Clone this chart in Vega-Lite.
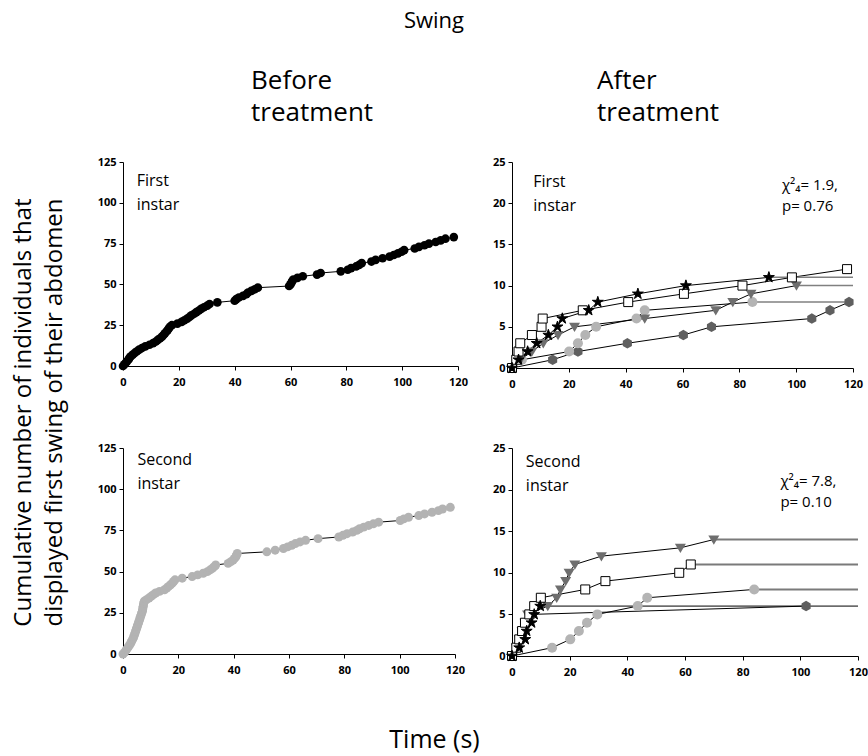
{
  "$schema": "https://vega.github.io/schema/vega-lite/v6.json",
  "autosize": {"type": "none"},
  "padding": {"left": 123, "top": 162, "right": 745, "bottom": 594},
  "background": "white",
  "title": {"text": "Swing", "fontSize": 22, "anchor": "middle", "frame": "group", "dx": 311, "offset": 35},
  "config": {
    "font": "Open Sans",
    "view": {"stroke": null},
    "title": {"font": "Open Sans", "fontWeight": "normal", "color": "black"},
    "axis": {"grid": false, "domainColor": "black", "tickColor": "black", "labelFont": "Open Sans", "labelFontWeight": "bold", "labelFontSize": 11, "labelColor": "black", "tickSize": 4, "domainWidth": 1, "tickWidth": 1, "labelFlush": false, "labelOverlap": false, "title": null},
    "axisY": {"labelPadding": 3},
    "axisX": {"labelPadding": 6}
  },
  "datasets": {
    "TL": [
      {"t":0,"n":0},{"t":0.5,"n":1},{"t":1,"n":2},{"t":1.5,"n":3},{"t":2,"n":4},{"t":2.3,"n":5},{"t":2.8,"n":6},{"t":3.5,"n":7},{"t":4.2,"n":8},{"t":5,"n":9},
      {"t":5.8,"n":10},{"t":6.8,"n":11},{"t":8,"n":12},{"t":9.5,"n":13},{"t":10.8,"n":14},{"t":11.8,"n":15},{"t":12.5,"n":16},{"t":13.3,"n":17},{"t":14,"n":18},{"t":14.5,"n":19},
      {"t":15,"n":20},{"t":15.5,"n":21},{"t":16,"n":22},{"t":16.4,"n":23},{"t":16.8,"n":24},{"t":17.5,"n":25},{"t":19.5,"n":26},{"t":21,"n":27},{"t":22,"n":28},{"t":23,"n":29},
      {"t":23.8,"n":30},{"t":24.5,"n":31},{"t":25.5,"n":32},{"t":26.3,"n":33},{"t":27.2,"n":34},{"t":28,"n":35},{"t":29,"n":36},{"t":30.2,"n":37},{"t":31,"n":38},{"t":33.8,"n":39},
      {"t":40,"n":40},{"t":40.6,"n":41},{"t":41.5,"n":42},{"t":43,"n":43},{"t":44.2,"n":44},{"t":44.8,"n":45},{"t":46,"n":46},{"t":47.2,"n":47},{"t":48.3,"n":48},{"t":59.5,"n":49},
      {"t":60,"n":50},{"t":60.3,"n":51},{"t":60.6,"n":52},{"t":61,"n":53},{"t":62.5,"n":54},{"t":64.4,"n":55},{"t":69.5,"n":56},{"t":70.8,"n":57},{"t":78,"n":58},{"t":80.5,"n":59},
      {"t":81.7,"n":60},{"t":83.5,"n":61},{"t":84.6,"n":62},{"t":85.5,"n":63},{"t":89,"n":64},{"t":90.5,"n":65},{"t":93,"n":66},{"t":95.5,"n":67},{"t":97,"n":68},{"t":98.5,"n":69},
      {"t":99.8,"n":70},{"t":100.7,"n":71},{"t":104.5,"n":72},{"t":106,"n":73},{"t":108,"n":74},{"t":109.6,"n":75},{"t":112,"n":76},{"t":113.8,"n":77},{"t":115.5,"n":78},{"t":118.5,"n":79}
    ],
    "BL": [
      {"t":0,"n":0},{"t":0.6,"n":1},{"t":1,"n":2},{"t":1.4,"n":3},{"t":1.8,"n":4},{"t":2.2,"n":5},{"t":2.6,"n":6},{"t":2.9,"n":7},{"t":3.2,"n":8},{"t":3.5,"n":9},
      {"t":3.8,"n":10},{"t":4,"n":11},{"t":4.2,"n":12},{"t":4.4,"n":13},{"t":4.6,"n":14},{"t":4.8,"n":15},{"t":5,"n":16},{"t":5.2,"n":17},{"t":5.4,"n":18},{"t":5.6,"n":19},
      {"t":5.8,"n":20},{"t":6,"n":21},{"t":6.2,"n":22},{"t":6.4,"n":23},{"t":6.6,"n":24},{"t":6.8,"n":25},{"t":7,"n":26},{"t":7.1,"n":27},{"t":7.2,"n":28},{"t":7.3,"n":29},
      {"t":7.4,"n":30},{"t":7.5,"n":31},{"t":7.7,"n":32},{"t":8.5,"n":33},{"t":9.4,"n":34},{"t":10.2,"n":35},{"t":11,"n":36},{"t":11.8,"n":37},{"t":13.2,"n":38},{"t":15,"n":39},
      {"t":15.8,"n":40},{"t":16.5,"n":41},{"t":17.2,"n":42},{"t":17.8,"n":43},{"t":18.3,"n":44},{"t":18.8,"n":45},{"t":21.4,"n":46},{"t":25,"n":47},{"t":27,"n":48},{"t":29,"n":49},
      {"t":30.5,"n":50},{"t":31.5,"n":51},{"t":32.3,"n":52},{"t":33,"n":53},{"t":33.5,"n":54},{"t":38,"n":55},{"t":39,"n":56},{"t":39.8,"n":57},{"t":40.3,"n":58},{"t":40.8,"n":59},
      {"t":41,"n":60},{"t":41.3,"n":61},{"t":52,"n":62},{"t":55,"n":63},{"t":58,"n":64},{"t":59.5,"n":65},{"t":61,"n":66},{"t":62.3,"n":67},{"t":64,"n":68},{"t":66,"n":69},
      {"t":70.5,"n":70},{"t":78,"n":71},{"t":79.5,"n":72},{"t":81,"n":73},{"t":83,"n":74},{"t":84.5,"n":75},{"t":85.5,"n":76},{"t":87,"n":77},{"t":88.8,"n":78},{"t":90.5,"n":79},
      {"t":92.4,"n":80},{"t":100.2,"n":81},{"t":101.5,"n":82},{"t":103.2,"n":83},{"t":106.9,"n":84},{"t":109,"n":85},{"t":111.7,"n":86},{"t":114,"n":87},{"t":115.5,"n":88},{"t":118.3,"n":89}
    ],
    "right": [
      {"panel":"TR","series":"hex","t":0,"n":0},{"panel":"TR","series":"hex","t":14.3,"n":1},{"panel":"TR","series":"hex","t":23.2,"n":2},{"panel":"TR","series":"hex","t":40.6,"n":3},{"panel":"TR","series":"hex","t":60.3,"n":4},{"panel":"TR","series":"hex","t":70.2,"n":5},{"panel":"TR","series":"hex","t":105.5,"n":6},{"panel":"TR","series":"hex","t":111.9,"n":7},{"panel":"TR","series":"hex","t":118.6,"n":8},
      {"panel":"TR","series":"circle","t":0,"n":0},{"panel":"TR","series":"circle","t":3.5,"n":1},{"panel":"TR","series":"circle","t":20.1,"n":2},{"panel":"TR","series":"circle","t":23.2,"n":3},{"panel":"TR","series":"circle","t":25.8,"n":4},{"panel":"TR","series":"circle","t":29.6,"n":5},{"panel":"TR","series":"circle","t":43.8,"n":6},{"panel":"TR","series":"circle","t":46.7,"n":7},{"panel":"TR","series":"circle","t":84.6,"n":8},
      {"panel":"TR","series":"tri","t":0,"n":0},{"panel":"TR","series":"tri","t":3,"n":1},{"panel":"TR","series":"tri","t":7,"n":2},{"panel":"TR","series":"tri","t":11,"n":3},{"panel":"TR","series":"tri","t":16.2,"n":4},{"panel":"TR","series":"tri","t":22,"n":5},{"panel":"TR","series":"tri","t":46.7,"n":6},{"panel":"TR","series":"tri","t":71.7,"n":7},{"panel":"TR","series":"tri","t":77.7,"n":8},{"panel":"TR","series":"tri","t":84.1,"n":9},{"panel":"TR","series":"tri","t":100.1,"n":10},
      {"panel":"TR","series":"square","t":0,"n":0},{"panel":"TR","series":"square","t":1.5,"n":1},{"panel":"TR","series":"square","t":2.3,"n":2},{"panel":"TR","series":"square","t":2.9,"n":3},{"panel":"TR","series":"square","t":7,"n":4},{"panel":"TR","series":"square","t":10.4,"n":5},{"panel":"TR","series":"square","t":10.8,"n":6},{"panel":"TR","series":"square","t":24.9,"n":7},{"panel":"TR","series":"square","t":40.9,"n":8},{"panel":"TR","series":"square","t":60.5,"n":9},{"panel":"TR","series":"square","t":81.1,"n":10},{"panel":"TR","series":"square","t":98.5,"n":11},{"panel":"TR","series":"square","t":117.9,"n":12},
      {"panel":"TR","series":"star","t":0,"n":0},{"panel":"TR","series":"star","t":2.3,"n":1},{"panel":"TR","series":"star","t":5.5,"n":2},{"panel":"TR","series":"star","t":8.7,"n":3},{"panel":"TR","series":"star","t":12.8,"n":4},{"panel":"TR","series":"star","t":16,"n":5},{"panel":"TR","series":"star","t":17.7,"n":6},{"panel":"TR","series":"star","t":27,"n":7},{"panel":"TR","series":"star","t":30.2,"n":8},{"panel":"TR","series":"star","t":44.3,"n":9},{"panel":"TR","series":"star","t":61.2,"n":10},{"panel":"TR","series":"star","t":90.4,"n":11},
      {"panel":"BR","series":"hex","t":0,"n":0},{"panel":"BR","series":"hex","t":2,"n":1},{"panel":"BR","series":"hex","t":3,"n":2},{"panel":"BR","series":"hex","t":3.5,"n":3},{"panel":"BR","series":"hex","t":5,"n":4},{"panel":"BR","series":"hex","t":7,"n":5},{"panel":"BR","series":"hex","t":102,"n":6},
      {"panel":"BR","series":"circle","t":0,"n":0},{"panel":"BR","series":"circle","t":13.9,"n":1},{"panel":"BR","series":"circle","t":20.2,"n":2},{"panel":"BR","series":"circle","t":23.2,"n":3},{"panel":"BR","series":"circle","t":26,"n":4},{"panel":"BR","series":"circle","t":29.6,"n":5},{"panel":"BR","series":"circle","t":43.6,"n":6},{"panel":"BR","series":"circle","t":46.9,"n":7},{"panel":"BR","series":"circle","t":84,"n":8},
      {"panel":"BR","series":"tri","t":0,"n":0},{"panel":"BR","series":"tri","t":1.5,"n":1},{"panel":"BR","series":"tri","t":2.5,"n":2},{"panel":"BR","series":"tri","t":3.5,"n":3},{"panel":"BR","series":"tri","t":4.5,"n":4},{"panel":"BR","series":"tri","t":5.4,"n":5},{"panel":"BR","series":"tri","t":12.4,"n":6},{"panel":"BR","series":"tri","t":15.5,"n":7},{"panel":"BR","series":"tri","t":16.8,"n":8},{"panel":"BR","series":"tri","t":18.6,"n":9},{"panel":"BR","series":"tri","t":19.8,"n":10},{"panel":"BR","series":"tri","t":21.8,"n":11},{"panel":"BR","series":"tri","t":31,"n":12},{"panel":"BR","series":"tri","t":58.4,"n":13},{"panel":"BR","series":"tri","t":70,"n":14},
      {"panel":"BR","series":"square","t":0,"n":0},{"panel":"BR","series":"square","t":1.5,"n":1},{"panel":"BR","series":"square","t":2.5,"n":2},{"panel":"BR","series":"square","t":3.5,"n":3},{"panel":"BR","series":"square","t":4.5,"n":4},{"panel":"BR","series":"square","t":6,"n":5},{"panel":"BR","series":"square","t":7.7,"n":6},{"panel":"BR","series":"square","t":10,"n":7},{"panel":"BR","series":"square","t":25.4,"n":8},{"panel":"BR","series":"square","t":32.4,"n":9},{"panel":"BR","series":"square","t":58,"n":10},{"panel":"BR","series":"square","t":62,"n":11},
      {"panel":"BR","series":"star","t":0,"n":0},{"panel":"BR","series":"star","t":2.5,"n":1},{"panel":"BR","series":"star","t":4.6,"n":2},{"panel":"BR","series":"star","t":5.1,"n":3},{"panel":"BR","series":"star","t":6.8,"n":4},{"panel":"BR","series":"star","t":7.7,"n":5},{"panel":"BR","series":"star","t":9.8,"n":6}
    ],
    "ext": [
      {"panel":"TR","series":"star","n":11,"t0":90.4,"t1":120},
      {"panel":"TR","series":"tri","n":10,"t0":100.1,"t1":120},
      {"panel":"TR","series":"circle","n":8,"t0":84.6,"t1":120},
      {"panel":"BR","series":"star","n":6,"t0":9.8,"t1":120},
      {"panel":"BR","series":"tri","n":14,"t0":70,"t1":120},
      {"panel":"BR","series":"square","n":11,"t0":62,"t1":120},
      {"panel":"BR","series":"circle","n":8,"t0":84,"t1":120}
    ]
  },
  "bounds": "flush",
  "align": "all",
  "spacing": {"row": 78, "column": 43},
  "columns": 2,
  "concat": [
    {
      "width": 335, "height": 204,
      "title": {"text": ["Before", "treatment"], "anchor": "start", "frame": "group", "dx": 128, "offset": 30, "fontSize": 26, "lineHeight": 32},
      "layer": [
        {"data": {"name": "TL"}, "mark": {"type": "line", "color": "black", "strokeWidth": 1},
         "encoding": {"x": {"field": "t", "type": "quantitative", "scale": {"domain": [0, 120], "nice": false}, "axis": {"values": [0, 20, 40, 60, 80, 100, 120]}},
                      "y": {"field": "n", "type": "quantitative", "scale": {"domain": [0, 125], "nice": false}, "axis": {"values": [0, 25, 50, 75, 100, 125]}}}},
        {"data": {"name": "TL"}, "mark": {"type": "circle", "color": "black", "size": 75, "opacity": 1},
         "encoding": {"x": {"field": "t", "type": "quantitative"}, "y": {"field": "n", "type": "quantitative"}}},
        {"data": {"values": [{}]}, "mark": {"type": "text", "text": ["First", "instar"], "align": "left", "baseline": "alphabetic", "fontSize": 16, "lineHeight": 24, "color": "black"},
         "encoding": {"x": {"datum": 4.9, "type": "quantitative"}, "y": {"datum": 110, "type": "quantitative"}}}
      ]
    },
    {
      "width": 341, "height": 206,
      "title": {"text": ["After", "treatment"], "anchor": "start", "frame": "group", "dx": 85, "offset": 30, "fontSize": 26, "lineHeight": 32},
      "layer": [
        {"data": {"name": "right"}, "transform": [{"filter": "datum.panel === 'TR'"}], "mark": {"type": "line", "color": "black", "strokeWidth": 1},
         "encoding": {"x": {"field": "t", "type": "quantitative", "scale": {"domain": [0, 120], "nice": false}, "axis": {"values": [0, 20, 40, 60, 80, 100, 120]}},
                      "y": {"field": "n", "type": "quantitative", "scale": {"domain": [0, 25], "nice": false}, "axis": {"values": [0, 5, 10, 15, 20, 25]}},
                      "detail": {"field": "series", "type": "nominal"}}},
        {"data": {"name": "ext"}, "transform": [{"filter": "datum.panel === 'TR'"}], "mark": {"type": "rule", "strokeWidth": 1.5},
         "encoding": {"x": {"field": "t0", "type": "quantitative"}, "x2": {"field": "t1"}, "y": {"field": "n", "type": "quantitative"},
                      "color": {"value": "#808080"}}},
        {"data": {"name": "right"}, "transform": [{"filter": "datum.panel === 'TR'"}], "mark": {"type": "point", "filled": true, "opacity": 1, "strokeWidth": 1, "size": 100},
         "encoding": {"x": {"field": "t", "type": "quantitative"}, "y": {"field": "n", "type": "quantitative"},
                      "shape": {"field": "series", "type": "nominal", "legend": null, "scale": {"domain": ["star", "square", "tri", "circle", "hex"], "range": ["M0,-1.15L0.258,-0.355L1.094,-0.355L0.418,0.136L0.676,0.93L0,0.439L-0.676,0.93L-0.418,0.136L-1.094,-0.355L-0.258,-0.355Z", "M-0.9,-0.9L0.9,-0.9L0.9,0.9L-0.9,0.9Z", "M-1.1,-0.8L1.1,-0.8L0,1.05Z", "circle", "M0,-1.05L0.91,-0.525L0.91,0.525L0,1.05L-0.91,0.525L-0.91,-0.525Z"]}},
                      "fill": {"field": "series", "type": "nominal", "legend": null, "scale": {"domain": ["star", "square", "tri", "circle", "hex"], "range": ["#000000", "#ffffff", "#6e6e6e", "#b4b4b4", "#5f5f5f"]}},
                      "stroke": {"field": "series", "type": "nominal", "legend": null, "scale": {"domain": ["star", "square", "tri", "circle", "hex"], "range": ["#000000", "#000000", "transparent", "transparent", "transparent"]}}}},
        {"data": {"values": [{}]}, "mark": {"type": "text", "text": ["First", "instar"], "align": "left", "baseline": "alphabetic", "fontSize": 16, "lineHeight": 24, "color": "black"},
         "encoding": {"x": {"datum": 7.5, "type": "quantitative"}, "y": {"datum": 22, "type": "quantitative"}}},
        {"data": {"values": [{}]}, "mark": {"type": "text", "text": ["χ²₄= 1.9,", "p= 0.76"], "align": "left", "baseline": "alphabetic", "fontSize": 15, "lineHeight": 21, "color": "black"},
         "encoding": {"x": {"datum": 95, "type": "quantitative"}, "y": {"datum": 21.6, "type": "quantitative"}}}
      ]
    },
    {
      "width": 332, "height": 206,
      "layer": [
        {"data": {"name": "BL"}, "mark": {"type": "line", "color": "black", "strokeWidth": 1},
         "encoding": {"x": {"field": "t", "type": "quantitative", "scale": {"domain": [0, 120], "nice": false},
                            "axis": {"values": [0, 20, 40, 60, 80, 100, 120], "title": "Time (s)", "titleX": 311, "titleY": 93, "titleAlign": "center", "titleBaseline": "alphabetic", "titleFontSize": 25, "titleFontWeight": "normal", "titleFont": "Open Sans", "titleColor": "black"}},
                      "y": {"field": "n", "type": "quantitative", "scale": {"domain": [0, 125], "nice": false},
                            "axis": {"values": [0, 25, 50, 75, 100, 125], "title": ["Cumulative number of individuals that", "displayed first swing of their abdomen"], "titleAngle": -90, "titleX": -112, "titleY": -36, "titleAlign": "center", "titleBaseline": "top", "titleFontSize": 24, "titleFontWeight": "normal", "titleLineHeight": 31, "titleFont": "Open Sans", "titleColor": "black"}}}},
        {"data": {"name": "BL"}, "mark": {"type": "circle", "color": "#b3b3b3", "size": 80, "opacity": 1},
         "encoding": {"x": {"field": "t", "type": "quantitative"}, "y": {"field": "n", "type": "quantitative"}}},
        {"data": {"values": [{}]}, "mark": {"type": "text", "text": ["Second", "instar"], "align": "left", "baseline": "alphabetic", "fontSize": 16, "lineHeight": 24, "color": "black"},
         "encoding": {"x": {"datum": 5.2, "type": "quantitative"}, "y": {"datum": 114.5, "type": "quantitative"}}}
      ]
    },
    {
      "width": 346, "height": 208,
      "layer": [
        {"data": {"name": "right"}, "transform": [{"filter": "datum.panel === 'BR'"}], "mark": {"type": "line", "color": "black", "strokeWidth": 1},
         "encoding": {"x": {"field": "t", "type": "quantitative", "scale": {"domain": [0, 120], "nice": false}, "axis": {"values": [0, 20, 40, 60, 80, 100, 120]}},
                      "y": {"field": "n", "type": "quantitative", "scale": {"domain": [0, 25], "nice": false}, "axis": {"values": [0, 5, 10, 15, 20, 25]}},
                      "detail": {"field": "series", "type": "nominal"}}},
        {"data": {"name": "ext"}, "transform": [{"filter": "datum.panel === 'BR'"}], "mark": {"type": "rule"},
         "encoding": {"x": {"field": "t0", "type": "quantitative"}, "x2": {"field": "t1"}, "y": {"field": "n", "type": "quantitative"},
                      "color": {"condition": {"test": "datum.series === 'star'", "value": "#000000"}, "value": "#7a7a7a"},
                      "strokeWidth": {"condition": {"test": "datum.series === 'star'", "value": 1}, "value": 2}}},
        {"data": {"name": "right"}, "transform": [{"filter": "datum.panel === 'BR'"}], "mark": {"type": "point", "filled": true, "opacity": 1, "strokeWidth": 1, "size": 100},
         "encoding": {"x": {"field": "t", "type": "quantitative"}, "y": {"field": "n", "type": "quantitative"},
                      "shape": {"field": "series", "type": "nominal", "legend": null, "scale": {"domain": ["star", "square", "tri", "circle", "hex"], "range": ["M0,-1.15L0.258,-0.355L1.094,-0.355L0.418,0.136L0.676,0.93L0,0.439L-0.676,0.93L-0.418,0.136L-1.094,-0.355L-0.258,-0.355Z", "M-0.9,-0.9L0.9,-0.9L0.9,0.9L-0.9,0.9Z", "M-1.1,-0.8L1.1,-0.8L0,1.05Z", "circle", "M0,-1.05L0.91,-0.525L0.91,0.525L0,1.05L-0.91,0.525L-0.91,-0.525Z"]}},
                      "fill": {"field": "series", "type": "nominal", "legend": null, "scale": {"domain": ["star", "square", "tri", "circle", "hex"], "range": ["#000000", "#ffffff", "#6e6e6e", "#b4b4b4", "#5f5f5f"]}},
                      "stroke": {"field": "series", "type": "nominal", "legend": null, "scale": {"domain": ["star", "square", "tri", "circle", "hex"], "range": ["#000000", "#000000", "transparent", "transparent", "transparent"]}}}},
        {"data": {"values": [{}]}, "mark": {"type": "text", "text": ["Second", "instar"], "align": "left", "baseline": "alphabetic", "fontSize": 16, "lineHeight": 24, "color": "black"},
         "encoding": {"x": {"datum": 4.8, "type": "quantitative"}, "y": {"datum": 22.7, "type": "quantitative"}}},
        {"data": {"values": [{}]}, "mark": {"type": "text", "text": ["χ²₄= 7.8,", "p= 0.10"], "align": "left", "baseline": "alphabetic", "fontSize": 15, "lineHeight": 21, "color": "black"},
         "encoding": {"x": {"datum": 93.1, "type": "quantitative"}, "y": {"datum": 20.4, "type": "quantitative"}}}
      ]
    }
  ]
}
